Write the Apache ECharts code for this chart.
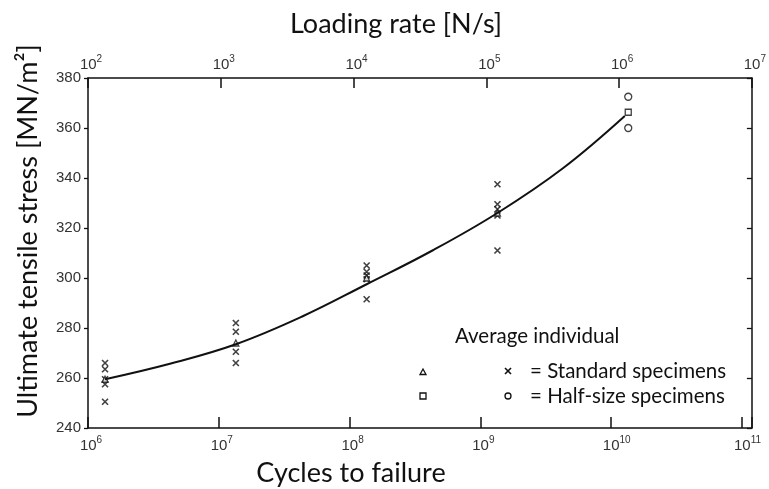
<!DOCTYPE html>
<html>
<head>
<meta charset="utf-8">
<script src="https://cdn.jsdelivr.net/npm/echarts@6/dist/echarts.min.js"></script>
<style>
html, body { margin: 0; padding: 0; background: #fff; }
#chart { width: 769px; height: 489px; }
</style>
</head>
<body>
<div id="chart"></div>
<script>
// Cycles to failure of each test group
const cycleGroups = [1.35e6, 1.35e7, 1.35e8, 1.35e9, 1.35e10];

// Ultimate tensile stress [MN/m2], standard specimens (individual results)
const standardIndividual = [
  [266, 263.5, 259.5, 257.5, 250.5],
  [282, 278.5, 270.5, 266],
  [305, 302.5, 301, 299.5, 291.5],
  [337.5, 329.5, 327.5, 325, 311],
  []
];
// Standard specimens, group averages
const standardAverage = [259.5, 274, 300, 326, null];

// Half-size specimens (individual results and average)
const halfIndividual = [[], [], [], [], [372.5, 360]];
const halfAverage = [null, null, null, null, 366.3];

// Fitted curve through the averages (read every half decade)
const fitCycles = [1.35e6, 4.3e6, 1.35e7, 4.3e7, 1.35e8, 4.3e8, 1.35e9, 4.3e9, 1.27e10];
const fitStress = [259.5, 265.8, 273.5, 284.5, 297.5, 311, 326, 344, 364.8];

// Axis ranges
const stressRange = [240, 380];
const stressStep = 20;
const cycleRange = [1e6, 1.19e11];       // decades 10^6 .. 10^11 (frame runs slightly past 10^11)
const loadingRateRange = [1e2, 1e7];     // N/s

const axisColor = '#111';
const labelColor = '#333';
const tickFont = 'Liberation Sans';
const titleFont = 'Lato';

function powerLabel(v) {
  const e = Math.log10(v);
  const n = Math.round(e);
  if (Math.abs(e - n) > 1e-6) return '';
  return '{' + (n >= 10 ? 'b2' : 'b1') + '|10}{s|' + n + '}';
}
const powerRich = {
  b1: { fontSize: 15, fontFamily: tickFont, color: labelColor, padding: [0, 0, 0, 6], lineHeight: 18, verticalAlign: 'bottom' },
  b2: { fontSize: 15, fontFamily: tickFont, color: labelColor, padding: [0, 0, 0, 11], lineHeight: 18, verticalAlign: 'bottom' },
  s:  { fontSize: 10, fontFamily: tickFont, color: labelColor, lineHeight: 18, verticalAlign: 'top' }
};

function pairs(groups) {
  const out = [];
  groups.forEach((vals, i) => vals.forEach(v => out.push([cycleGroups[i], v])));
  return out;
}
function avgPairs(arr) {
  const out = [];
  arr.forEach((v, i) => { if (v != null) out.push([cycleGroups[i], v]); });
  return out;
}

const crossPath = 'path://M0 0L10 10M10 0L0 10';
const markStroke = { color: 'rgba(0,0,0,0)', borderColor: axisColor, borderWidth: 1.6 };
const hollow = { color: '#fff', borderColor: axisColor, borderWidth: 1.3 };
const keyFont = '20.5px ' + titleFont;

const chart = echarts.init(document.getElementById('chart'), null, { renderer: 'canvas' });

chart.setOption({
  backgroundColor: '#fff',
  animation: false,
  grid: { left: 88, right: 11, top: 78, bottom: 61, containLabel: false },
  xAxis: [
    {
      type: 'log', logBase: 10, position: 'bottom',
      min: cycleRange[0], max: cycleRange[1],
      splitLine: { show: false },
      axisLine: { lineStyle: { color: axisColor, width: 1.5 } },
      axisTick: { inside: true, length: 11, lineStyle: { color: axisColor, width: 1.5 } },
      axisLabel: { formatter: powerLabel, rich: powerRich, margin: 7, showMinLabel: true, showMaxLabel: true }
    },
    {
      type: 'log', logBase: 10, position: 'top',
      min: loadingRateRange[0], max: loadingRateRange[1],
      splitLine: { show: false },
      axisLine: { lineStyle: { color: axisColor, width: 1.5 } },
      axisTick: { inside: true, length: 10, lineStyle: { color: axisColor, width: 1.5 } },
      axisLabel: { formatter: powerLabel, rich: powerRich, margin: 6, showMinLabel: true, showMaxLabel: true }
    }
  ],
  yAxis: [
    {
      type: 'value', position: 'left',
      min: stressRange[0], max: stressRange[1], interval: stressStep,
      splitLine: { show: false },
      axisLine: { show: true, lineStyle: { color: axisColor, width: 1.5 } },
      axisTick: { show: true, inside: false, length: 4, lineStyle: { color: axisColor, width: 1.3 } },
      axisLabel: { color: labelColor, fontFamily: tickFont, fontSize: 15, margin: 7 }
    },
    {
      type: 'value', position: 'right',
      min: stressRange[0], max: stressRange[1], interval: stressStep,
      splitLine: { show: false },
      axisLine: { show: true, lineStyle: { color: axisColor, width: 1.5 } },
      axisTick: { show: true, inside: true, length: 5, lineStyle: { color: axisColor, width: 1.3 } },
      axisLabel: { show: false }
    }
  ],
  series: [
    {
      type: 'line', xAxisIndex: 0, yAxisIndex: 0,
      data: fitCycles.map((c, i) => [c, fitStress[i]]),
      smooth: 0.4, showSymbol: false, silent: true,
      lineStyle: { color: axisColor, width: 2 }
    },
    {
      type: 'scatter', name: 'Standard specimens',
      data: pairs(standardIndividual),
      symbol: crossPath, symbolSize: 6, itemStyle: markStroke
    },
    {
      type: 'scatter', name: 'Standard average',
      data: avgPairs(standardAverage),
      symbol: 'triangle', symbolSize: 6, itemStyle: hollow
    },
    {
      type: 'scatter', name: 'Half-size specimens',
      data: pairs(halfIndividual),
      symbol: 'circle', symbolSize: 7, itemStyle: hollow
    },
    {
      type: 'scatter', name: 'Half-size average',
      data: avgPairs(halfAverage),
      symbol: 'rect', symbolSize: 6, itemStyle: hollow
    }
  ],
  graphic: [
    // axis titles
    { type: 'text', x: 396, y: 24, style: { text: 'Loading rate [N/s]', font: '27px ' + titleFont, fill: '#111', align: 'center', verticalAlign: 'middle', textAlign: 'center', textVerticalAlign: 'middle' } },
    { type: 'text', x: 351, y: 473, style: { text: 'Cycles to failure', font: '27px ' + titleFont, fill: '#111', align: 'center', verticalAlign: 'middle', textAlign: 'center', textVerticalAlign: 'middle' } },
    { type: 'text', x: 28, y: 231, rotation: Math.PI / 2, style: { text: 'Ultimate tensile stress [MN/m²]', font: '27px ' + titleFont, fill: '#111', align: 'center', verticalAlign: 'middle', textAlign: 'center', textVerticalAlign: 'middle' } },
    // key
    { type: 'text', x: 455, y: 336, style: { text: 'Average individual', font: keyFont, fill: '#111', align: 'left', verticalAlign: 'middle', textAlign: 'left', textVerticalAlign: 'middle' } },
    { type: 'text', x: 530, y: 371, style: { text: '= Standard specimens', font: keyFont, fill: '#111', align: 'left', verticalAlign: 'middle', textAlign: 'left', textVerticalAlign: 'middle' } },
    { type: 'text', x: 530, y: 396, style: { text: '= Half-size specimens', font: keyFont, fill: '#111', align: 'left', verticalAlign: 'middle', textAlign: 'left', textVerticalAlign: 'middle' } },
    { type: 'polygon', shape: { points: [[423, 369], [426, 374.5], [420, 374.5]] }, style: { fill: '#fff', stroke: axisColor, lineWidth: 1.3 } },
    { type: 'rect', shape: { x: 420, y: 393, width: 6, height: 6 }, style: { fill: '#fff', stroke: axisColor, lineWidth: 1.3 } },
    { type: 'line', shape: { x1: 505, y1: 368, x2: 511, y2: 374 }, style: { stroke: axisColor, lineWidth: 1.6 } },
    { type: 'line', shape: { x1: 511, y1: 368, x2: 505, y2: 374 }, style: { stroke: axisColor, lineWidth: 1.6 } },
    { type: 'circle', shape: { cx: 508, cy: 396, r: 3 }, style: { fill: '#fff', stroke: axisColor, lineWidth: 1.3 } }
  ]
});
</script>
</body>
</html>
